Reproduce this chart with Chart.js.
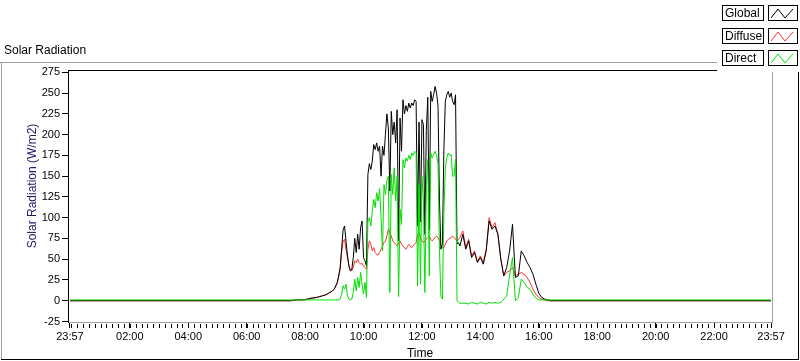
<!DOCTYPE html>
<html>
<head>
<meta charset="utf-8">
<script src="https://cdn.jsdelivr.net/npm/chart.js@4.4.1/dist/chart.umd.min.js"></script>
<style>
    html, body { margin: 0; padding: 0; background: #fff; }
    #wrap { position: relative; width: 800px; height: 361px; }
</style>
</head>
<body>
<div id="wrap"><canvas id="solarChart" width="800" height="361"></canvas></div>
<script>
// Solar radiation for one day, 23:57 -> 23:57 (W/m2)
const times = [
    '23:57',
    '07:30', '07:36', '07:42', '07:48', '07:54', '08:00', '08:06', '08:12', '08:18', '08:24', '08:30', '08:36', '08:42', '08:48', '08:54', '09:00', '09:06',
    '09:09', '09:12', '09:15', '09:18', '09:21', '09:24', '09:27', '09:30', '09:33', '09:36', '09:39', '09:42', '09:45', '09:48', '09:51', '09:54', '09:57',
    '10:00', '10:03', '10:06', '10:09', '10:12', '10:15', '10:18', '10:21', '10:24', '10:27', '10:30', '10:33', '10:36', '10:39', '10:42', '10:45', '10:48', '10:51', '10:54', '10:57',
    '11:00', '11:03', '11:06', '11:09', '11:12', '11:15', '11:18', '11:21', '11:24', '11:27', '11:30', '11:33', '11:36', '11:39', '11:42', '11:45', '11:48', '11:51', '11:54', '11:57',
    '12:00', '12:03', '12:06', '12:09', '12:12', '12:15', '12:18', '12:21', '12:24', '12:27', '12:30', '12:33', '12:36', '12:39', '12:42', '12:45', '12:48', '12:51', '12:54', '12:57',
    '13:00', '13:03', '13:06', '13:09', '13:12', '13:15', '13:18',
    '13:24', '13:30', '13:36', '13:42', '13:48', '13:54',
    '14:00', '14:06', '14:12', '14:18', '14:24', '14:30', '14:36', '14:42', '14:48', '14:54',
    '15:00', '15:06', '15:12', '15:18', '15:24', '15:30', '15:36', '15:42', '15:48', '15:54',
    '16:00', '16:06', '16:12', '16:18', '16:24',
    '23:57'
];

const globalRad = [
    0,
    0, 0.5, 1, 1, 1, 1.5, 2, 3, 3.5, 4, 5, 6, 7, 9, 11, 14, 22,
    30, 40, 62, 85, 90, 72, 55, 42, 36, 38, 52, 75, 58, 80, 62, 88, 96,
    52, 48, 42, 152, 165, 158, 168, 188, 182, 190, 180, 186, 150, 186, 175, 200, 225, 208, 132, 228,
    200, 215, 190, 230, 72, 220, 180, 242, 225, 235, 228, 238, 232, 238, 235, 242, 240, 90, 215, 95,
    218, 212, 80, 205, 245, 85, 252, 240, 248, 258, 250, 235, 120, 62, 68, 180, 240, 248, 252, 245,
    250, 240, 236, 248, 68, 70, 66,
    80, 62, 72, 52, 58, 46,
    52, 44, 60, 96, 86, 90, 80, 50, 30, 40,
    60, 92, 28, 30, 60, 54, 46, 40, 32, 20,
    9, 4, 2, 1, 0,
    0
];

const diffuseRad = [
    0,
    0, 0.5, 1, 1, 1, 1.5, 2, 3, 3.5, 4, 5, 6, 7, 9, 11, 14, 21,
    29, 38, 58, 72, 74, 62, 52, 42, 36, 36, 40, 48, 46, 50, 46, 44, 45,
    42, 40, 38, 62, 72, 68, 60, 64, 58, 56, 55, 58, 62, 66, 70, 72, 78, 86, 82, 78,
    72, 70, 68, 66, 70, 72, 68, 66, 64, 62, 65, 68, 66, 64, 66, 68, 70, 80, 82, 76,
    72, 70, 72, 74, 76, 78, 74, 72, 74, 76, 78, 76, 72, 66, 64, 64, 68, 72, 74, 75,
    76, 78, 76, 74, 72, 74, 76,
    84, 64, 74, 54, 60, 47,
    54, 46, 62, 100, 88, 94, 80, 50, 30, 34,
    36, 40, 30, 32, 34, 32, 28, 22, 14, 8,
    4, 2, 1, 0, 0,
    0
];

const directRad = [
    1,
    1, 1, 1, 1, 1, 1, 1, 1, 1, 1, 1, 1, 1, 1, 1, 1, 1,
    1, 2, 8, 18, 14, 20, 6, 2, 1, 2, 10, 26, 12, 28, 16, 34, 20,
    8, 22, 4, 95, 100, 90, 108, 122, 112, 130, 120, 135, 100, 60, 140, 128, 145, 150, 10, 152,
    128, 160, 120, 150, 5, 110, 92, 170, 160, 172, 168, 175, 170, 178, 175, 180, 178, 18, 140, 20,
    150, 120, 10, 140, 170, 30, 178, 172, 176, 180, 175, 165, 60, 5, 2, 105, 160, 172, 178, 175,
    176, 150, 150, 170, 0, -2, -3,
    -3, -3, -4, -2, -3, -4,
    -2, -3, -4, -2, -3, -2, -3, -2, 2, 6,
    30, 52, 0, 4, 26, 22, 16, 14, 8, 3,
    1, 1, 1, 1, 1,
    1
];

const xTickLabels = ['23:57', '02:00', '04:00', '06:00', '08:00', '10:00', '12:00', '14:00', '16:00', '18:00', '20:00', '22:00', '23:57'];
const yTicks = [-25, 0, 25, 50, 75, 100, 125, 150, 175, 200, 225, 250, 275];

// minutes elapsed since the 23:57 start; last entry is the next day's 23:57
const toMinutes = (t, i, arr) => {
    const [h, m] = t.split(':').map(Number);
    let v = (h * 60 + m - (23 * 60 + 57) + 1440) % 1440;
    if (v === 0 && i === arr.length - 1) v = 1440;
    return v;
};
const xs = times.map(toMinutes);
const xTickPositions = xTickLabels.map(toMinutes);
const toPoints = (vals) => vals.map((v, i) => ({ x: xs[i], y: v }));

const FONT = 'Liberation Sans';
const yTitle = 'Solar Radiation (W/m2)';

// LabVIEW-style frame, captions, minor ticks and plot legend
const labviewFrame = {
    id: 'labviewFrame',
    beforeDraw(chart) {
        const ctx = chart.ctx;
        ctx.save();
        ctx.fillStyle = '#fff';
        ctx.fillRect(0, 0, chart.width, chart.height);
        ctx.fillStyle = '#a0a0a0';
        ctx.fillRect(0, 62, 799, 1);
        ctx.fillRect(1, 62, 1, 297);
        ctx.fillStyle = '#000';
        ctx.fillRect(1, 359, 798, 1);
        ctx.fillRect(798, 62, 1, 298);
        ctx.font = '12px "' + FONT + '"';
        ctx.textBaseline = 'alphabetic';
        ctx.fillText('Solar Radiation', 4, 54);

        // y axis caption
        ctx.translate(33, 186);
        ctx.rotate(-Math.PI / 2);
        ctx.fillStyle = '#1a1a66';
        ctx.textAlign = 'center';
        ctx.textBaseline = 'middle';
        ctx.fillText(yTitle, 0, 0);
        ctx.restore();
    },
    afterDraw(chart) {
        const { ctx, chartArea: a, scales } = chart;
        ctx.save();
        ctx.fillStyle = '#000';
        ctx.fillRect(a.left, a.top, a.right - a.left, 1);
        ctx.fillStyle = '#a0a0a0';
        ctx.fillRect(a.right, a.top, 1, a.bottom - a.top + 1);

        // minor ticks every 12 minutes
        ctx.fillStyle = '#000';
        for (let m = 3; m < 1440; m += 12) {
            const px = Math.round(scales.x.getPixelForValue(m));
            ctx.fillRect(px, a.bottom + 2, 1, 4);
        }

        // legend panel
        ctx.fillStyle = '#fff';
        ctx.fillRect(717, 0, 83, 72);
        ctx.lineWidth = 1;
        ctx.font = '12px "' + FONT + '"';
        ctx.textBaseline = 'middle';
        chart.data.datasets.forEach((ds, i) => {
            const y = Math.round(5 + i * 22.5);
            ctx.strokeStyle = '#000';
            ctx.strokeRect(722.5, y + 0.5, 41, 15);
            ctx.strokeRect(768.5, y + 0.5, 29, 15);
            ctx.fillStyle = '#000';
            ctx.fillText(ds.label, 725, y + 8.5);
            ctx.strokeStyle = ds.borderColor;
            ctx.beginPath();
            ctx.moveTo(771, y + 13);
            ctx.lineTo(778, y + 4);
            ctx.lineTo(785, y + 13);
            ctx.lineTo(793, y + 4);
            ctx.stroke();
        });
        ctx.restore();
    }
};

new Chart(document.getElementById('solarChart'), {
    type: 'line',
    data: {
        datasets: [
            { label: 'Global', data: toPoints(globalRad), borderColor: '#000000', order: 1 },
            { label: 'Diffuse', data: toPoints(diffuseRad), borderColor: '#ff3030', order: 2 },
            { label: 'Direct', data: toPoints(directRad), borderColor: '#00e000', order: 0 }
        ]
    },
    options: {
        responsive: false,
        animation: false,
        devicePixelRatio: 1,
        events: [],
        layout: { padding: { top: 70, right: 28, left: 0, bottom: 0 } },
        elements: {
            line: { borderWidth: 1, tension: 0, fill: false },
            point: { radius: 0 }
        },
        plugins: {
            legend: { display: false },
            tooltip: { enabled: false }
        },
        scales: {
            x: {
                type: 'linear',
                min: -4, max: 1442,
                afterBuildTicks: (s) => { s.ticks = xTickPositions.map(v => ({ value: v })); },
                afterFit: (s) => { s.height = 39; },
                grid: { drawOnChartArea: false, tickLength: 6, color: '#000' },
                border: { color: '#a0a0a0' },
                ticks: {
                    autoSkip: false, maxRotation: 0, padding: 2, color: '#000',
                    font: { family: FONT, size: 11 },
                    callback: (v, i) => xTickLabels[i]
                },
                title: {
                    display: true, text: 'Time', color: '#000',
                    font: { family: FONT, size: 12 },
                    padding: { top: 0, bottom: 0 }
                }
            },
            y: {
                min: -25.6, max: 277.8,
                afterBuildTicks: (s) => { s.ticks = yTicks.map(v => ({ value: v })); },
                afterFit: (s) => { s.width = 68; },
                grid: { drawOnChartArea: false, tickLength: 6, color: '#000' },
                border: { color: '#000' },
                ticks: { padding: 2, color: '#000', font: { family: FONT, size: 11 } }
            }
        }
    },
    plugins: [labviewFrame]
});
</script>
</body>
</html>
